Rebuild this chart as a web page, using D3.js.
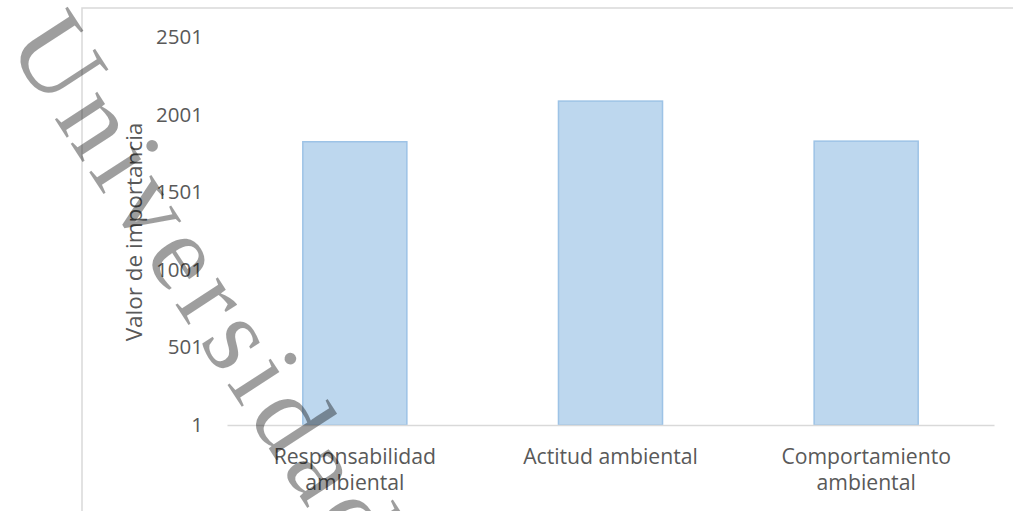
<!DOCTYPE html>
<html>
<head>
<meta charset="utf-8">
<script src="https://cdn.jsdelivr.net/npm/d3@7"></script>
<style>
  html, body { margin: 0; padding: 0; background: #fff; }
  svg { display: block; }
  text { font-family: "Open Sans", sans-serif; }
</style>
</head>
<body>
<svg id="chart" width="1013" height="511"></svg>
<script>
// ---- data ----
const categories = ["Responsabilidad ambiental", "Actitud ambiental", "Comportamiento ambiental"];
const categoryLines = [["Responsabilidad", "ambiental"], ["Actitud ambiental"], ["Comportamiento", "ambiental"]];
const values = [1826, 2088, 1830];
const yTicks = [1, 501, 1001, 1501, 2001, 2501];
const yTitle = "Valor de importancia";
const watermarkText = "Universidad Nacional";

// ---- layout ----
const W = 1013, H = 511;
const plot = { left: 227, right: 994, top: 37, bottom: 425 };
const svg = d3.select("#chart");

// chart area border
svg.append("rect")
  .attr("x", 82).attr("y", 8)
  .attr("width", W + 20).attr("height", H + 20)
  .attr("fill", "#fff").attr("stroke", "#d9d9d9").attr("stroke-width", 1.5);

const x = d3.scaleBand().domain(categories)
  .range([plot.left, plot.right])
  .paddingInner(0.593).paddingOuter(0.2965);
const y = d3.scaleLinear().domain([1, 2501]).range([plot.bottom, plot.top]);

// y axis (labels only)
const yAxis = svg.append("g")
  .attr("transform", `translate(${plot.left},0)`)
  .call(d3.axisLeft(y).tickValues(yTicks).tickSize(0).tickPadding(24).tickFormat(d3.format("d")));
yAxis.select(".domain").remove();
yAxis.selectAll("text")
  .style("font-family", '"Open Sans", sans-serif')
  .style("font-size", "20.5px")
  .attr("fill", "#595959");

// bars
svg.append("g").selectAll("rect")
  .data(values)
  .join("rect")
  .attr("x", (d, i) => x(categories[i]))
  .attr("y", d => y(d))
  .attr("width", x.bandwidth())
  .attr("height", d => y(1) - y(d))
  .attr("fill", "#bdd7ee")
  .attr("stroke", "#9dc3e6")
  .attr("stroke-width", 1.5);

// x axis line
const xAxis = svg.append("g")
  .attr("transform", `translate(0,${plot.bottom})`)
  .call(d3.axisBottom(x).tickSize(0).tickFormat(""));
xAxis.select(".domain").attr("stroke", "#d9d9d9").attr("stroke-width", 1.5);

// category labels
const labels = svg.append("g").selectAll("text")
  .data(categories)
  .join("text")
  .attr("text-anchor", "middle")
  .attr("fill", "#595959")
  .style("font-size", "21.2px");
labels.each(function(d, i) {
  const t = d3.select(this);
  categoryLines[i].forEach((ln, j) => {
    t.append("tspan")
      .attr("x", x(d) + x.bandwidth() / 2)
      .attr("y", 464 + j * 25.5)
      .text(ln);
  });
});

// y title
svg.append("text")
  .attr("transform", `translate(142,232) rotate(-90)`)
  .attr("text-anchor", "middle")
  .attr("fill", "#595959")
  .style("font-size", "22.5px")
  .text(yTitle);

// watermark
svg.append("text")
  .attr("transform", "translate(6,44) rotate(57)")
  .attr("fill", "#000")
  .attr("fill-opacity", 0.38)
  .style("font-family", '"Liberation Serif", "Times New Roman", serif')
  .style("font-size", "110px")
  .style("letter-spacing", "8px")
  .text(watermarkText);
</script>
</body>
</html>
